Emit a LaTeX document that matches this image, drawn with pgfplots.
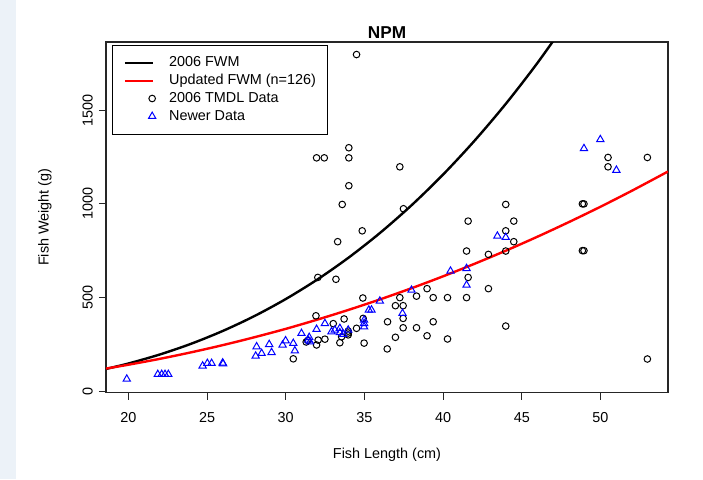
\documentclass[border=0pt]{standalone}
\usepackage{fontspec}
\setmainfont{Liberation Sans}
\usepackage{pgfplots}
\pgfplotsset{compat=1.18}
\definecolor{rblue}{RGB}{0,0,255}
\definecolor{rred}{RGB}{255,0,0}
\definecolor{bgstrip}{RGB}{236,242,248}
\pgfplotsset{
  linelegend/.style={legend image code/.code={\draw[##1, line cap=butt] (0pt,0pt) -- (14.2pt,0pt);}},
  marklegend/.style={legend image code/.code={\path[draw=none, fill=none] (0pt,0pt) -- (14.2pt,0pt); \path[##1, draw=none] (13.6pt,0pt) node[inner sep=0pt] {}; \draw[##1, draw=none] plot[mark options={draw=.}] coordinates {(13.6pt,0pt)};}},
}
\begin{document}
\begin{tikzpicture}
\useasboundingbox (0,0) rectangle (351.5pt,239.5pt);
\fill[white] (0,0) rectangle (351.5pt,239.5pt);
\fill[bgstrip] (0,0) rectangle (8pt,239.5pt);
\begin{axis}[
  at={(53pt,43.25pt)}, anchor=south west,
  scale only axis, width=281pt, height=175.25pt,
  xmin=18.58, xmax=54.29, ymin=-8, ymax=1865,
  axis line style={line width=0.6pt, color=black!85},
  xtick={20,25,30,35,40,45,50}, ytick={0,500,1000,1500},
  xtick pos=bottom, ytick pos=left,
  tick align=outside, major tick length=3.5pt,
  tick style={line width=0.5pt, color=black!85},
  /pgf/number format/assume math mode=true,
  /pgf/number format/set thousands separator={},
  ticklabel style={font=\fontsize{7.2}{8.6}\selectfont},
  xticklabel style={anchor=north, inner sep=0pt},
  xticklabel shift=6.4pt,
  yticklabel style={rotate=90, anchor=south, inner sep=0pt},
  yticklabel shift=2.9pt,
  xlabel={Fish Length (cm)}, ylabel={Fish Weight (g)},
  every axis x label/.style={at={(axis description cs:0.5,-0.1783)}, anchor=center, font=\fontsize{7.2}{8.6}\selectfont},
  every axis y label/.style={at={(axis description cs:-0.1085,0.5)}, rotate=90, anchor=center, font=\fontsize{7.2}{8.6}\selectfont},
  title={NPM},
  every axis title/.style={at={(axis description cs:0.5,1)}, anchor=center, yshift=4.6pt, font=\fontsize{8.6}{10}\selectfont\bfseries},
  legend cell align=left,
  legend style={at={(axis description cs:0.0101,0.9926)}, anchor=north west,
    draw=black, line width=0.5pt, fill=white, inner xsep=5.8pt, inner ysep=5.3pt,
    font=\fontsize{7.2}{8.6}\selectfont, row sep=1.7pt, column sep=6.65pt,
    nodes={inner sep=0pt, text height=5.6pt, text depth=1.6pt}},
]
\addlegendimage{black, line width=1.2pt, linelegend}
\addlegendentry{2006 FWM}
\addlegendimage{rred, line width=1.2pt, linelegend}
\addlegendentry{Updated FWM (n=126)}
\addlegendimage{black, only marks, mark=o, mark size=1.65pt, mark options={line width=0.5pt, draw=black}, marklegend}
\addlegendentry{2006 TMDL Data}
\addlegendimage{rblue, only marks, mark=triangle, mark size=2.1pt, mark options={line width=0.5pt, draw=rblue}, marklegend}
\addlegendentry{Newer Data}

\addplot[forget plot, black, only marks, mark=o, mark size=1.65pt, mark options={line width=0.5pt}] table {
L W
34.50 1798
31.96 1246
32.45 1246
34.01 1300
34.01 1246
37.25 1198
34.01 1097
33.59 997
37.48 974
34.86 856
33.30 798
32.04 607
33.19 597
34.90 497
31.92 402
33.02 360
33.71 385
34.92 388
34.50 335
33.97 320
33.97 310
33.97 300
32.49 277
32.06 272
31.96 246
33.44 258
33.55 290
34.98 256
31.30 262
31.40 270
30.48 172
36.47 370
36.97 456
37.46 456
36.97 287
36.45 225
37.46 388
37.46 338
38.31 338
37.25 499
38.31 507
38.98 547
39.37 499
40.28 499
41.49 499
39.37 370
38.98 295
40.28 278
41.49 748
41.59 908
41.59 607
42.88 730
42.88 547
43.98 997
43.98 856
43.98 748
43.98 347
44.49 908
44.49 798
48.85 1000
48.95 1000
48.85 750
48.95 750
50.48 1248
50.48 1198
52.98 1248
52.98 171
};
\addplot[forget plot, rblue, only marks, mark=triangle, mark size=2.1pt, mark options={line width=0.5pt}] table {
L W
19.90 64
21.87 89
22.12 89
22.33 89
22.54 89
24.72 134
25.02 148
25.29 148
25.99 150
26.02 146
28.09 187
28.15 237
28.47 201
28.95 249
29.10 206
29.80 246
29.99 269
30.48 255
30.58 215
31.00 308
31.43 272
31.54 263
31.49 287
31.96 330
32.49 361
32.91 317
33.12 326
33.44 335
33.44 312
33.65 303
33.97 326
34.98 379
34.98 361
34.98 343
35.28 433
35.45 433
35.98 481
37.42 415
37.99 539
40.47 641
41.49 655
41.49 566
43.45 828
43.98 821
48.95 1296
49.99 1344
51.01 1180
};
\addplot[forget plot, black, line width=1.2pt, smooth] coordinates {
(18.58,118.0) (20,146.9) (22,195.1) (24,252.8) (26,320.9) (28,400.0) (30,491.3)
(32,595.3) (34,713.1) (36,845.4) (38,993.0) (40,1156.8) (42,1337.8) (44,1536.4)
(46,1753.8) (48,1990.8)
};
\addplot[forget plot, rred, line width=1.2pt, smooth] coordinates {
(18.58,120.0) (20,140.4) (22,171.9) (24,206.9) (26,245.2) (28,287.1) (30,332.1)
(32,381.3) (34,433.8) (36,489.8) (38,549.5) (40,612.9) (42,679.9) (44,750.5)
(46,824.8) (48,903.0) (50,984.7) (52,1070.4) (54.29,1173.0)
};
\end{axis}
\end{tikzpicture}
\end{document}
